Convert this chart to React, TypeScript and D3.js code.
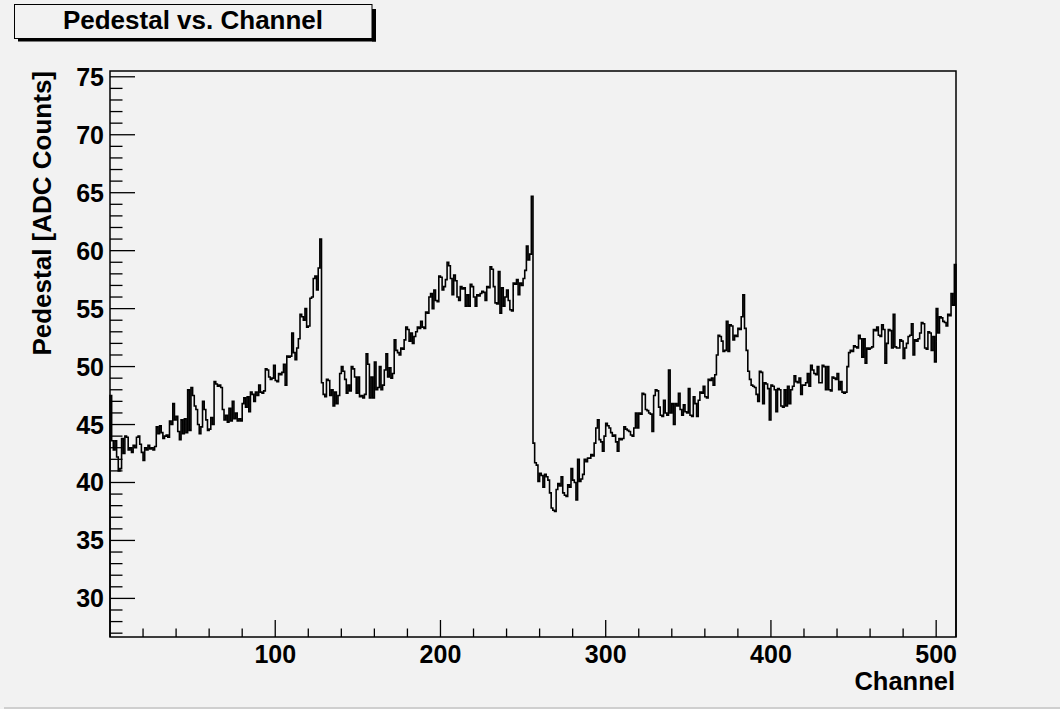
import React from "react";
import * as d3 from "d3";

// Pedestal per channel, one array per 128-channel readout chip.
const chip1 = [
  47.5, 43.6, 42.8, 43.6, 42.2, 41.0, 41.2, 43.8, 42.5, 44.0,
  43.9, 42.8, 43.0, 42.6, 43.2, 43.0, 43.9, 44.0, 43.3, 42.6,
  41.9, 43.0, 42.8, 43.2, 42.9, 43.0, 42.8, 43.1, 44.8, 44.2,
  44.9, 44.3, 43.8, 44.0, 44.1, 43.9, 45.3, 45.0, 46.8, 45.4,
  45.7, 44.4, 43.7, 45.4, 44.2, 45.5, 44.3, 48.0, 44.5, 48.2,
  47.5, 46.6, 46.3, 45.0, 44.2, 44.8, 47.0, 46.3, 45.4, 44.5,
  44.6, 45.6, 45.0, 48.7, 48.5, 48.3, 48.4, 48.2, 46.3, 45.4,
  45.8, 45.2, 46.4, 45.3, 47.0, 45.5, 46.0, 45.3, 45.5, 45.3,
  46.8, 47.3, 46.5, 47.4, 46.1, 47.8, 47.6, 47.0, 47.8, 47.5,
  48.4, 47.8, 47.7, 47.9, 49.8, 49.7, 49.1, 48.9, 49.0, 50.1,
  48.8, 48.7, 49.4, 49.3, 49.5, 50.2, 48.4, 50.9, 50.8, 50.9,
  52.9, 51.2, 50.6, 51.6, 52.4, 54.5, 54.3, 54.0, 55.0, 53.4,
  53.5, 55.9, 56.0, 57.6, 57.8, 56.6, 58.5, 61.0,
];

const chip2 = [
  48.6, 47.6,
  47.4, 48.9, 48.8, 47.5, 48.0, 46.6, 47.8, 46.8, 47.5, 49.4,
  50.0, 49.6, 48.9, 47.7, 48.4, 47.9, 50.0, 49.8, 49.1, 47.7,
  49.1, 47.4, 47.5, 47.3, 47.6, 51.1, 50.2, 47.3, 49.1, 47.3,
  50.4, 48.0, 48.2, 50.0, 48.0, 48.4, 49.7, 51.1, 49.1, 49.9,
  49.0, 49.4, 52.3, 51.4, 51.2, 51.0, 51.6, 51.5, 52.3, 53.4,
  53.2, 52.2, 52.9, 52.0, 52.6, 53.0, 53.4, 53.3, 53.9, 53.4,
  53.3, 54.7, 54.6, 56.0, 56.3, 55.0, 56.6, 55.7, 55.6, 57.8,
  57.7, 56.6, 56.9, 57.5, 59.0, 58.7, 57.6, 56.2, 57.9, 57.4,
  56.0, 55.7, 56.9, 56.7, 56.8, 55.2, 56.2, 55.2, 57.1, 56.9,
  56.0, 55.2, 56.2, 56.1, 56.3, 56.5, 56.4, 55.7, 56.9, 56.8,
  58.6, 58.4, 56.9, 55.5, 55.4, 58.2, 54.6, 56.8, 55.2, 56.0,
  56.6, 55.7, 54.9, 54.8, 57.2, 57.1, 57.5, 56.2, 57.2, 57.0,
  57.6, 58.3, 60.4, 59.2, 59.7, 64.7,
];

const chip3 = [
  43.4, 41.7, 41.5, 40.1,
  40.8, 40.6, 39.6, 40.7, 40.5, 40.2, 39.1, 37.8, 37.6, 37.5,
  39.4, 39.9, 39.7, 40.5, 39.1, 38.9, 38.8, 39.8, 39.6, 41.2,
  40.2, 40.0, 38.5, 42.0, 40.1, 40.3, 40.7, 42.0, 41.8, 42.1,
  42.1, 42.4, 42.3, 43.4, 44.7, 45.4, 43.7, 43.5, 42.7, 44.0,
  45.1, 44.9, 44.7, 44.3, 44.0, 44.1, 43.5, 42.7, 43.8, 43.7,
  43.8, 44.8, 44.6, 44.5, 44.4, 44.1, 44.0, 44.7, 46.0, 44.7,
  46.0, 45.9, 47.7, 47.6, 46.3, 46.2, 46.0, 45.9, 44.4, 47.5,
  48.0, 47.9, 46.5, 45.8, 45.7, 47.1, 46.0, 45.8, 49.7, 46.0,
  46.8, 45.0, 46.8, 46.6, 47.7, 46.3, 45.8, 46.7, 46.1, 46.0,
  48.1, 45.8, 45.7, 47.4, 46.8, 45.7, 47.1, 47.8, 47.7, 48.3,
  47.4, 47.3, 48.9, 48.8, 49.0, 48.4, 49.3, 51.0, 52.7, 52.6,
  52.2, 51.3, 51.4, 53.9, 51.3, 53.6, 53.5, 52.3, 52.7, 52.6,
  53.3, 53.2, 54.3, 56.2,
];

const chip4 = [
  53.3, 51.4, 49.6, 48.9, 48.4, 48.3,
  48.2, 47.6, 47.0, 49.6, 49.5, 46.8, 48.6, 48.5, 48.1, 45.4,
  48.4, 48.3, 48.0, 46.1, 48.1, 48.0, 46.6, 46.5, 48.0, 46.6,
  48.3, 46.8, 48.0, 48.3, 49.2, 48.7, 48.6, 49.0, 47.6, 48.4,
  48.4, 48.6, 49.4, 48.3, 50.1, 49.7, 49.4, 49.3, 50.0, 48.6,
  48.6, 50.1, 50.0, 48.0, 50.0, 48.0, 47.9, 49.1, 49.0, 48.9,
  49.4, 48.0, 48.7, 47.8, 47.7, 47.8, 50.0, 51.2, 51.4, 51.3,
  51.8, 51.7, 51.6, 52.7, 52.4, 50.8, 52.4, 50.3, 51.6, 51.5,
  51.6, 51.7, 53.2, 53.1, 53.4, 52.7, 52.6, 53.6, 53.2, 50.3,
  52.0, 53.2, 53.1, 51.6, 54.5, 51.7, 51.6, 51.6, 52.3, 52.2,
  50.7, 51.6, 52.0, 52.6, 52.7, 53.7, 51.0, 52.3, 52.2, 52.4,
  52.9, 53.8, 53.7, 51.6, 51.5, 53.0, 52.9, 51.4, 52.6, 50.4,
  55.0, 52.9, 54.3, 54.2, 53.9, 53.8, 53.5, 54.5, 54.4, 56.3,
  55.3, 58.8,
];

const pedestal = [...chip1, ...chip2, ...chip3, ...chip4];

const xDomain = [0, 512];
const yDomain = [26.67, 75.5];
const xMajorTicks = [100, 200, 300, 400, 500];
const yMajorTicks = [30, 35, 40, 45, 50, 55, 60, 65, 70, 75];

const titleText = "Pedestal vs. Channel";
const xTitle = "Channel";
const yTitle = "Pedestal [ADC Counts]";

const W = 1060;
const H = 709;
const frame = { left: 110, right: 956, top: 71, bottom: 637 };
const font = "'Liberation Sans', Arial, Helvetica, sans-serif";
const bg = "#f2f2f2";

export default function App() {
  const x = d3.scaleLinear().domain(xDomain).range([frame.left, frame.right]);
  const y = d3.scaleLinear().domain(yDomain).range([frame.bottom, frame.top]);

  // Histogram outline: starts and ends on the frame floor, steps across each bin.
  const pts: [number, number][] = [[0, yDomain[0]]];
  pedestal.forEach((v, i) => {
    pts.push([i, v]);
    pts.push([i + 1, v]);
  });
  pts.push([pedestal.length, yDomain[0]]);
  const path = d3
    .line<[number, number]>()
    .x((d) => x(d[0]))
    .y((d) => y(d[1]))(pts) as string;

  const xMinor = d3.range(20, 512, 20).filter((t) => t % 100 !== 0);
  const yMinor = d3.range(27, 76, 1).filter((t) => t % 5 !== 0);

  return (
    <svg
      width={W}
      height={H}
      style={{ position: "absolute", left: 0, top: 0, display: "block" }}
      fontFamily={font}
      fontWeight="bold"
    >
      <rect x={0} y={0} width={W} height={H} fill={bg} />
      <rect x={4} y={707} width={W - 4} height={2} fill="#cfcfcf" />

      {/* title box with drop shadow */}
      <rect x={18} y={38.5} width={358} height={3} fill="#000" />
      <rect x={372} y={9} width={4} height={32.5} fill="#000" />
      <rect x={14.5} y={4.5} width={357.5} height={34} fill={bg} stroke="#000" strokeWidth={1} />
      <text x={193} y={28.5} textAnchor="middle" fontSize={26}>
        {titleText}
      </text>

      {/* histogram */}
      <path d={path} fill="none" stroke="#000" strokeWidth={1.6} strokeLinejoin="miter" />

      {/* frame */}
      <rect
        x={frame.left}
        y={frame.top}
        width={frame.right - frame.left}
        height={frame.bottom - frame.top}
        fill="none"
        stroke="#000"
        strokeWidth={1.5}
      />

      {/* y axis ticks */}
      {yMajorTicks.map((t) => (
        <g key={"ym" + t}>
          <line x1={frame.left} x2={frame.left + 25} y1={y(t)} y2={y(t)} stroke="#000" strokeWidth={1.3} />
          <text x={104} y={y(t) + 9} textAnchor="end" fontSize={25}>
            {t}
          </text>
        </g>
      ))}
      {yMinor.map((t) => (
        <line key={"yn" + t} x1={frame.left} x2={frame.left + 12.5} y1={y(t)} y2={y(t)} stroke="#000" strokeWidth={1.3} />
      ))}

      {/* x axis ticks */}
      {xMajorTicks.map((t) => (
        <g key={"xm" + t}>
          <line x1={x(t)} x2={x(t)} y1={frame.bottom} y2={frame.bottom - 17} stroke="#000" strokeWidth={1.3} />
          <text x={x(t)} y={663} textAnchor="middle" fontSize={25}>
            {t}
          </text>
        </g>
      ))}
      {xMinor.map((t) => (
        <line key={"xn" + t} x1={x(t)} x2={x(t)} y1={frame.bottom} y2={frame.bottom - 8.5} stroke="#000" strokeWidth={1.3} />
      ))}

      {/* axis titles */}
      <text x={955} y={689.5} textAnchor="end" fontSize={25.5}>
        {xTitle}
      </text>
      <text transform={`translate(51, 71) rotate(-90)`} textAnchor="end" fontSize={26}>
        {yTitle}
      </text>
    </svg>
  );
}
